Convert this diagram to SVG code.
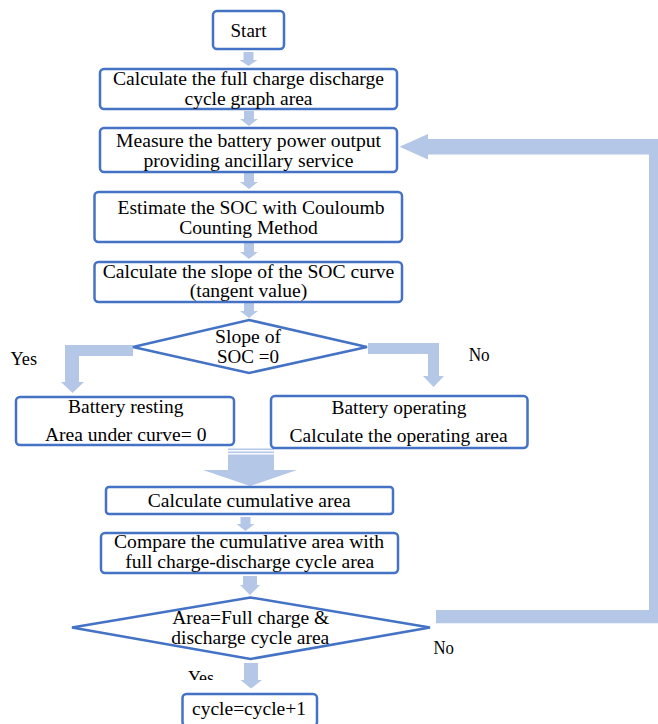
<svg xmlns="http://www.w3.org/2000/svg" width="658" height="724" viewBox="0 0 658 724">
<style>
.box{fill:#fff;stroke:#4472C4;stroke-width:2.5}
.dia{fill:none;stroke:#4472C4;stroke-width:2.5}
.arr{fill:#B4C7E7}
.t text{font-size:19px;fill:#000;text-anchor:middle}
.t text.l{text-anchor:start}
</style>
<defs>
<clipPath id="yesclip"><rect x="180" y="660" width="50" height="20"/></clipPath>
</defs>
<g id="connectors">
<polygon class="arr" points="243.5,52 253.5,52 253.5,60 257.5,60 248.5,66 239.5,60 243.5,60"/>
<polygon class="arr" points="244,111 254,111 254,119 258,119 249,126 240,119 244,119"/>
<polygon class="arr" points="244,173 254,173 254,182 258,182 249,189 240,182 244,182"/>
<polygon class="arr" points="244,243 254,243 254,252 258,252 249,259 240,252 244,252"/>
<polygon class="arr" points="244,303 254,303 254,311 258,311 249,318 240,311 244,311"/>
<polygon class="arr" points="65,345 133,345 133,356 79,356 79,382 84,382 72.5,393 61,382 65,382"/>
<polygon class="arr" points="368,343 439,343 439,376 444,376 433.5,387 423,376 428,376 428,354 368,354"/>
<rect class="arr" x="228" y="448.5" width="46" height="1.6"/>
<rect class="arr" x="228" y="451.5" width="46" height="1.6"/>
<polygon class="arr" points="228,454.5 274,454.5 274,470 297,470 250,486 203,470 228,470"/>
<polygon class="arr" points="240.5,517 250.5,517 250.5,524 254.5,524 245.5,531 236.5,524 240.5,524"/>
<polygon class="arr" points="243,576 257,576 257,585 260,585 250,595 240,585 243,585"/>
<polygon class="arr" points="244,663 258,663 258,680 262,680 251,688.5 240.5,680 244,680"/>
<polygon class="arr" points="436,610 649,610 649,154.5 428,154.5 428,159.5 399.5,146.8 428,134 428,139 658,139 658,623.3 436,623.3"/>
</g>
<g class="t" font-family="'Liberation Serif', 'Times New Roman', 'DejaVu Serif', serif">
<g id="start">
<rect class="box" x="213" y="11" width="71" height="38" rx="4"/>
<text x="248.5" y="37" textLength="36" lengthAdjust="spacingAndGlyphs">Start</text>
</g>
<g id="full-cycle-area">
<rect class="box" x="100" y="69" width="297" height="40" rx="4"/>
<text x="248.5" y="84.5" textLength="271" lengthAdjust="spacingAndGlyphs">Calculate the full charge discharge</text>
<text x="248.5" y="104.5" textLength="128" lengthAdjust="spacingAndGlyphs">cycle graph area</text>
</g>
<g id="measure">
<rect class="box" x="100" y="128" width="297" height="44" rx="4"/>
<text x="248.5" y="147" textLength="265" lengthAdjust="spacingAndGlyphs">Measure the battery power output</text>
<text x="248.5" y="166.5" textLength="210" lengthAdjust="spacingAndGlyphs">providing ancillary service</text>
</g>
<g id="estimate-soc">
<rect class="box" x="94.5" y="192" width="307.5" height="50" rx="4"/>
<text x="251" y="213.5" textLength="267" lengthAdjust="spacingAndGlyphs">Estimate the SOC with Couloumb</text>
<text x="248.5" y="233.5" textLength="138.5" lengthAdjust="spacingAndGlyphs">Counting Method</text>
</g>
<g id="slope">
<rect class="box" x="94.5" y="262" width="307.5" height="40" rx="4"/>
<text x="248.5" y="277.5" textLength="291.5" lengthAdjust="spacingAndGlyphs">Calculate the slope of the SOC curve</text>
<text x="248.5" y="297" textLength="117.5" lengthAdjust="spacingAndGlyphs">(tangent value)</text>
</g>
<g id="decision-slope">
<polygon class="dia" points="249,320 367,347 249,373 133,347"/>
<text x="248" y="342.5" textLength="66" lengthAdjust="spacingAndGlyphs">Slope of</text>
<text x="248" y="362.5" textLength="62" lengthAdjust="spacingAndGlyphs">SOC =0</text>
</g>
<g id="label-yes-1">
<text class="l" x="10.5" y="365" textLength="26.5" lengthAdjust="spacingAndGlyphs">Yes</text>
</g>
<g id="label-no-1">
<text class="l" x="468.7" y="360.7" textLength="21" lengthAdjust="spacingAndGlyphs">No</text>
</g>
<g id="resting">
<rect class="box" x="16" y="397" width="218" height="48" rx="4"/>
<text x="125.7" y="412.7" textLength="115.4" lengthAdjust="spacingAndGlyphs">Battery resting</text>
<text x="125.7" y="441" textLength="161.5" lengthAdjust="spacingAndGlyphs">Area under curve= 0</text>
</g>
<g id="operating">
<rect class="box" x="271" y="396" width="256.5" height="52" rx="4"/>
<text x="399" y="414" textLength="135" lengthAdjust="spacingAndGlyphs">Battery operating</text>
<text x="398.6" y="442.3" textLength="218" lengthAdjust="spacingAndGlyphs">Calculate the operating area</text>
</g>
<g id="cumulative">
<rect class="box" x="106" y="487" width="287" height="27" rx="3"/>
<text x="249.3" y="506.7" textLength="203" lengthAdjust="spacingAndGlyphs">Calculate cumulative area</text>
</g>
<g id="compare">
<rect class="box" x="101" y="533" width="297" height="40" rx="4"/>
<text x="249" y="548.3" textLength="270" lengthAdjust="spacingAndGlyphs">Compare the cumulative area with</text>
<text x="249.7" y="568.3" textLength="249" lengthAdjust="spacingAndGlyphs">full charge-discharge cycle area</text>
</g>
<g id="decision-area">
<polygon class="dia" points="250.5,597.5 430,627.5 250.5,659 72,627.5"/>
<text x="250.7" y="624" textLength="157" lengthAdjust="spacingAndGlyphs">Area=Full charge &amp;</text>
<text x="250.3" y="644" textLength="158" lengthAdjust="spacingAndGlyphs">discharge cycle area</text>
</g>
<g id="label-no-2">
<text class="l" x="433.5" y="654" textLength="20.5" lengthAdjust="spacingAndGlyphs">No</text>
</g>
<g id="label-yes-2">
<text class="l" x="188" y="684" textLength="26" lengthAdjust="spacingAndGlyphs" clip-path="url(#yesclip)">Yes</text>
</g>
<g id="cycle">
<rect class="box" x="182.5" y="694" width="134.5" height="32" rx="4"/>
<text x="249" y="715" textLength="114" lengthAdjust="spacingAndGlyphs">cycle=cycle+1</text>
</g>
</g>
</svg>
